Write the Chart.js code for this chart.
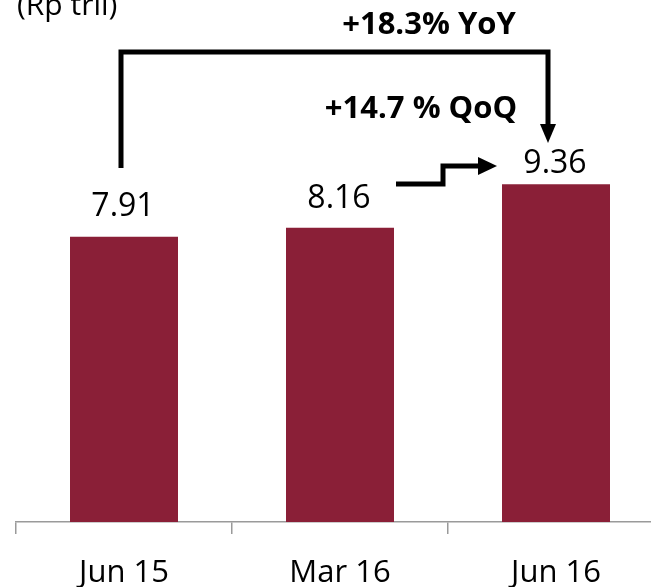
<!DOCTYPE html>
<html>
<head>
<meta charset="utf-8">
<script src="https://cdn.jsdelivr.net/npm/chart.js@4"></script>
<style>
  html, body { margin: 0; padding: 0; background: #fff; overflow: hidden; }
  #wrap { position: absolute; left: 0; top: 0; width: 680px; height: 587px; }
</style>
</head>
<body>
<div id="wrap"><canvas id="c"></canvas></div>
<script>
const categories = ["Jun 15", "Mar 16", "Jun 16"];
const values = [7.91, 8.16, 9.36];
const valueLabels = ["7.91", "8.16", "9.36"];
const unitLabel = "(Rp tril)";
const yoyLabel = "+18.3% YoY";
const qoqLabel = "+14.7 % QoQ";

const FONT = "'Open Sans', sans-serif";

const annotations = {
  id: 'annotations',
  afterDatasetsDraw(chart) {
    const ctx = chart.ctx;
    const bars = chart.getDatasetMeta(0).data;
    const labelGap = [21, 20, 11];
    ctx.save();
    // value labels
    ctx.fillStyle = '#000';
    ctx.font = "32px " + FONT;
    ctx.textAlign = 'center';
    ctx.textBaseline = 'alphabetic';
    bars.forEach((b, i) => {
      ctx.fillText(valueLabels[i], b.x - 1, b.y - labelGap[i]);
    });
    // unit label
    ctx.textAlign = 'left';
    ctx.font = "30px " + FONT;
    ctx.fillText(unitLabel, 17, 15);

    // YoY bracket
    const x0 = bars[0].x - 3;
    const x2 = bars[2].x - 8;
    ctx.strokeStyle = '#000';
    ctx.lineWidth = 5;
    ctx.lineJoin = 'miter';
    ctx.beginPath();
    ctx.moveTo(x0, 168);
    ctx.lineTo(x0, 52);
    ctx.lineTo(x2, 52);
    ctx.lineTo(x2, 125);
    ctx.stroke();
    ctx.fillStyle = '#000';
    ctx.beginPath();
    ctx.moveTo(x2 - 8, 124);
    ctx.lineTo(x2 + 8, 124);
    ctx.lineTo(x2, 143);
    ctx.closePath();
    ctx.fill();

    // QoQ step arrow
    ctx.beginPath();
    ctx.moveTo(396, 184);
    ctx.lineTo(443, 184);
    ctx.lineTo(443, 166);
    ctx.lineTo(480, 166);
    ctx.stroke();
    ctx.beginPath();
    ctx.moveTo(478, 157);
    ctx.lineTo(497, 166);
    ctx.lineTo(478, 175);
    ctx.closePath();
    ctx.fill();

    // texts
    ctx.font = "bold 31px " + FONT;
    ctx.textAlign = 'center';
    ctx.fillText(yoyLabel, 429, 34);
    ctx.fillText(qoqLabel, 421, 118);
    ctx.restore();
  }
};

new Chart(document.getElementById('c'), {
  type: 'bar',
  data: {
    labels: categories,
    datasets: [{
      data: values,
      backgroundColor: '#8A1F37',
      borderWidth: 0,
      barPercentage: 0.5,
      categoryPercentage: 1.0
    }]
  },
  options: {
    responsive: true,
    maintainAspectRatio: false,
    animation: false,
    events: [],
    layout: { padding: { left: 16, right: 16, top: 17, bottom: 0 } },
    plugins: { legend: { display: false }, tooltip: { enabled: false }, title: { display: false } },
    scales: {
      x: {
        grid: { display: true, drawOnChartArea: false, drawTicks: true, tickLength: 12, color: '#9a9a9a', lineWidth: 1.5, offset: true },
        border: { display: true, color: '#9a9a9a', width: 1.5 },
        ticks: { color: '#000', font: { family: FONT, size: 31 }, padding: 21 },
        afterFit(scale) { scale.height = 65; }
      },
      y: { display: false, min: 0, max: 14 }
    }
  },
  plugins: [annotations]
});
</script>
</body>
</html>
